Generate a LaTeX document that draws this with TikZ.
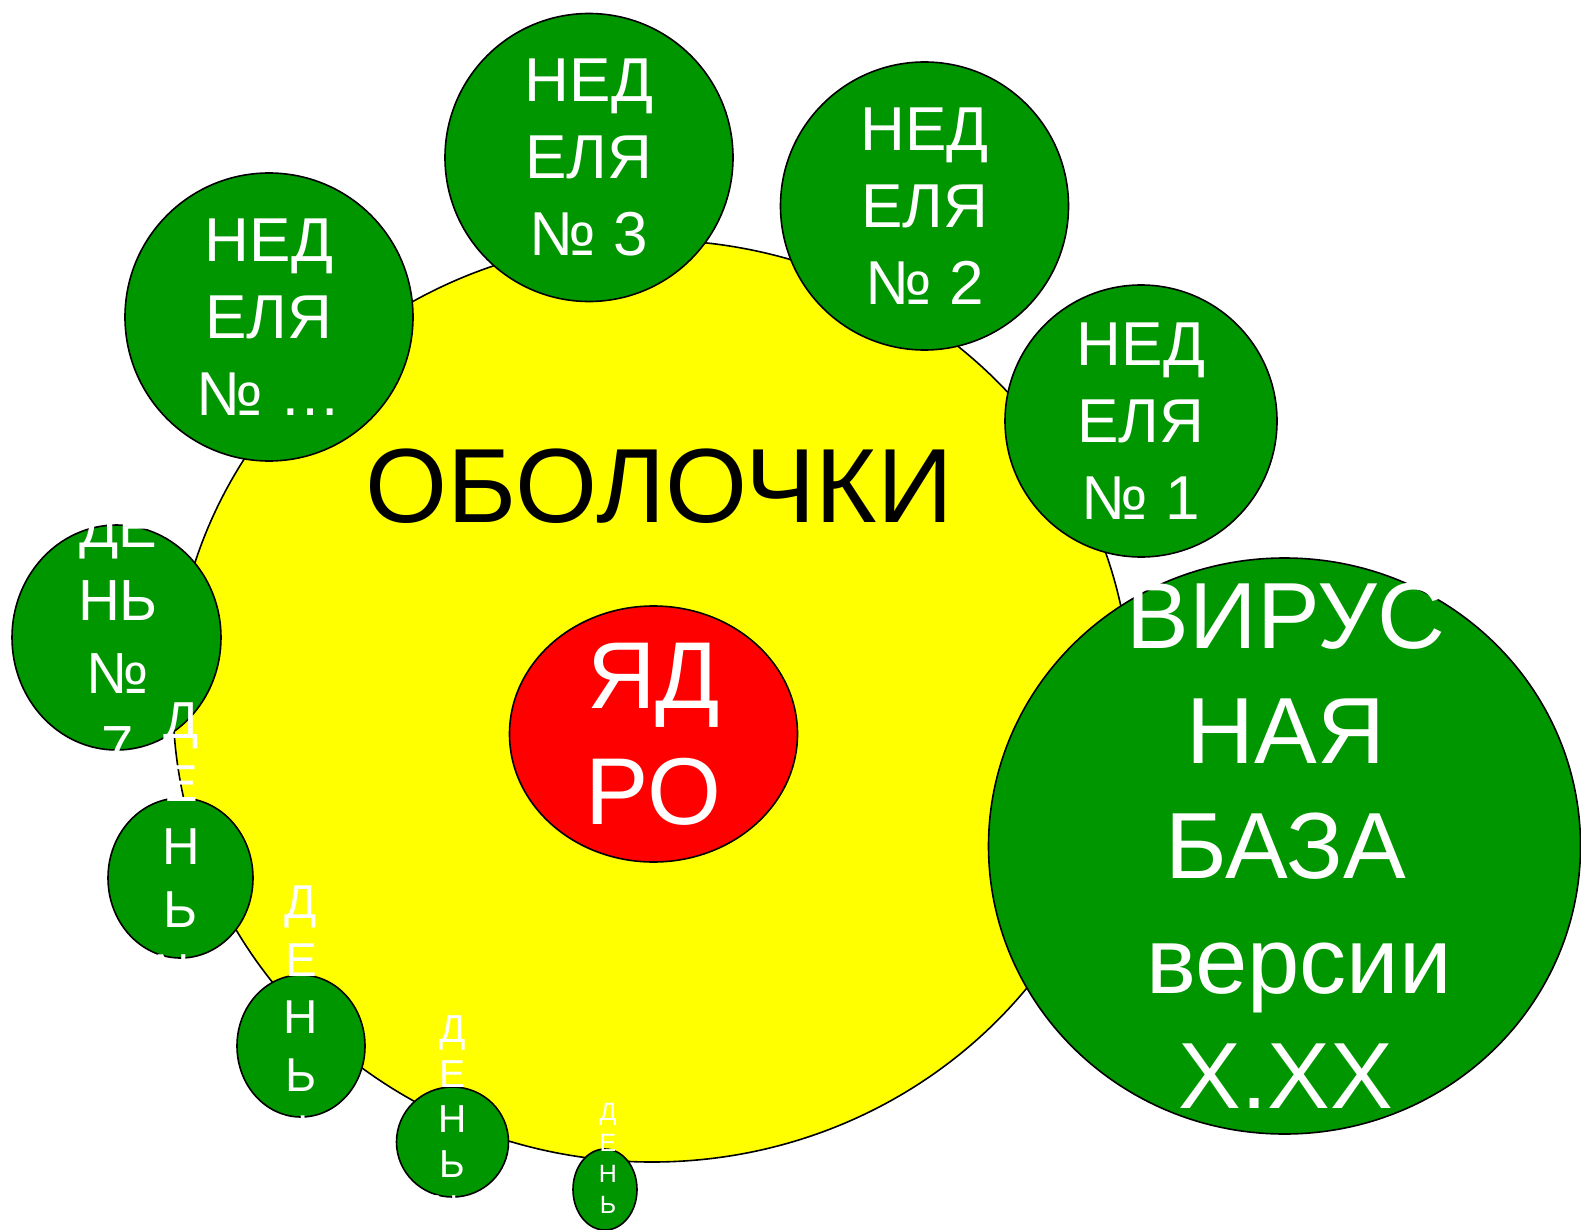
\documentclass[tikz,border=0pt]{standalone}
\usepackage{fontspec}
\setmainfont{Liberation Sans}
\definecolor{leaf}{RGB}{0,150,0}
\definecolor{sun}{RGB}{255,255,0}
\begin{document}
\begin{tikzpicture}[x=1pt,y=-1pt,
  blob/.style={draw=black, line width=1.6pt, fill=leaf},
  lbl/.style={text=white, align=center, inner sep=0pt}]
\useasboundingbox (0,0) rectangle (1581,1230);

\coordinate (shell) at (652,701);
\draw[line width=1.6pt, fill=sun] (shell) ellipse [x radius=479, y radius=461];
\node[inner sep=0pt, font=\fontsize{105.5}{126}\selectfont] (shell text) at (659,486.5) {ОБОЛОЧКИ};

\coordinate (core) at (653.5,734);
\draw[line width=1.6pt, fill=red] (core) ellipse [x radius=144, y radius=128];
\node[lbl, font=\fontsize{95}{116}\selectfont] (core text) at (core) {ЯД\\РО};

% weeks
\coordinate (week3) at (589,157.5);
\draw[blob] (week3) circle [radius=144];
\node[lbl, font=\fontsize{62}{77}\selectfont] (week3 text) at (week3) {НЕД\\ЕЛЯ\\№ 3};

\coordinate (week2) at (924.5,206);
\draw[blob] (week2) circle [radius=144];
\node[lbl, font=\fontsize{62}{77}\selectfont] (week2 text) at (week2) {НЕД\\ЕЛЯ\\№ 2};

\coordinate (weekn) at (269,317);
\draw[blob] (weekn) circle [radius=144];
\node[lbl, font=\fontsize{62}{77}\selectfont] (weekn text) at (weekn) {НЕД\\ЕЛЯ\\№ …};

\coordinate (week1) at (1141,421);
\draw[blob] (week1) circle [radius=136];
\node[lbl, font=\fontsize{62}{77}\selectfont] (week1 text) at (week1) {НЕД\\ЕЛЯ\\№ 1};

\coordinate (base) at (1284.5,846);
\draw[blob] (base) ellipse [x radius=296, y radius=288];
\node[lbl, font=\fontsize{94}{115}\selectfont] (base text) at (1286,846)
  {ВИРУС\\НАЯ\\БАЗА\\\hspace*{.28em}версии\\X.XX};

% days
\coordinate (day7) at (116.5,637.5);
\draw[blob] (day7) ellipse [x radius=104.5, y radius=112.5];
\node[lbl, font=\fontsize{58}{73}\selectfont] (day7 text) at (118,637.5) {ДЕ\\НЬ\\№\\7};

\coordinate (day6) at (180.5,878);
\draw[blob] (day6) ellipse [x radius=72.5, y radius=80];
\node[lbl, font=\fontsize{52}{63}\selectfont] (day6 text) at (181,846.5) {Д\\Е\\Н\\Ь\\№};

\coordinate (day5) at (301,1046);
\draw[blob] (day5) ellipse [x radius=64, y radius=71];
\node[lbl, font=\fontsize{47.5}{57.5}\selectfont] (day5 text) at (301,1017.25) {Д\\Е\\Н\\Ь\\№};

\coordinate (day4) at (452.5,1142);
\draw[blob] (day4) ellipse [x radius=56, y radius=55];
\node[lbl, font=\fontsize{39}{45}\selectfont] (day4 text) at (452.5,1119.5) {Д\\Е\\Н\\Ь\\№};

\coordinate (day3) at (605,1189.5);
\draw[blob] (day3) ellipse [x radius=32, y radius=40.5];
\node[lbl, font=\fontsize{25}{31}\selectfont] (day3 text) at (608,1158.5) {Д\\Е\\Н\\Ь};
\end{tikzpicture}
\end{document}
